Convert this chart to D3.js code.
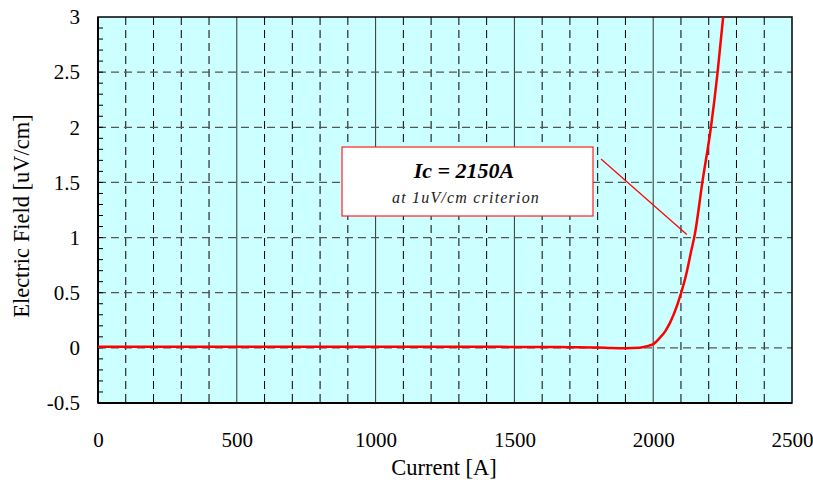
<!DOCTYPE html>
<html><head><meta charset="utf-8">
<script src="https://cdn.jsdelivr.net/npm/d3@7"></script>
<style>body{margin:0;background:#fff}svg{display:block}text{font-family:"Liberation Serif","Times New Roman",serif}</style>
</head><body>
<svg id="c" width="813" height="480"></svg>
<script>
const current = [0, 100, 200, 300, 400, 500, 600, 700, 800, 900, 1000, 1100, 1200, 1300, 1400, 1500, 1600, 1700, 1800, 1850, 1900, 1950, 1970, 1985, 2002, 2020, 2045, 2075, 2101, 2122, 2137, 2150, 2177, 2208, 2232, 2252];
const field   = [0.01, 0.01, 0.01, 0.01, 0.01, 0.01, 0.01, 0.01, 0.01, 0.01, 0.01, 0.01, 0.01, 0.01, 0.01, 0.008, 0.008, 0.006, 0.003, -0.002, -0.004, 0.0, 0.01, 0.02, 0.036, 0.08, 0.157, 0.31, 0.5, 0.70, 0.88, 1.03, 1.5, 2.0, 2.5, 3.0];
const xTicks = [0, 500, 1000, 1500, 2000, 2500];
const yTicks = [-0.5, 0, 0.5, 1, 1.5, 2, 2.5, 3];
const annotTitle = "Ic = 2150A";
const annotSub = "at 1uV/cm criterion";
const annotPoint = [2150, 1];

const svg = d3.select("#c");
const L = 98, R = 792, T = 17, B = 403;
const x = d3.scaleLinear().domain([0, 2500]).range([L, R]);
const y = d3.scaleLinear().domain([-0.5, 3]).range([B, T]);

svg.append("rect").attr("x", L).attr("y", T).attr("width", R - L).attr("height", B - T).attr("fill", "#ccffff");

// vertical grid
const minorX = d3.range(100, 2500, 100);
svg.append("g").selectAll("line").data(minorX).join("line")
  .attr("x1", d => x(d)).attr("x2", d => x(d)).attr("y1", T).attr("y2", B)
  .attr("stroke", d => d % 500 === 0 ? "#333" : "#000")
  .attr("stroke-width", 1)
  .attr("stroke-dasharray", d => d % 500 === 0 ? null : "8,5");
// horizontal grid
svg.append("g").selectAll("line").data(yTicks.filter(d => d > -0.5 && d < 3)).join("line")
  .attr("x1", L).attr("x2", R).attr("y1", d => y(d)).attr("y2", d => y(d))
  .attr("stroke", "#555").attr("stroke-width", 1.2).attr("stroke-dasharray", "8,5");

// minor y ticks
const minorY = d3.range(-0.4, 3, 0.1).map(v => Math.round(v * 10) / 10);
svg.append("g").selectAll("line").data(minorY).join("line")
  .attr("x1", L).attr("x2", L + 5).attr("y1", d => y(d)).attr("y2", d => y(d))
  .attr("stroke", "#000").attr("stroke-width", 1);

// frame
svg.append("rect").attr("x", L).attr("y", T).attr("width", R - L).attr("height", B - T)
  .attr("fill", "none").attr("stroke", "#000").attr("stroke-width", 1.5);
svg.append("line").attr("x1", L).attr("x2", R).attr("y1", B).attr("y2", B).attr("stroke", "#000").attr("stroke-width", 2);
svg.append("line").attr("x1", L).attr("x2", L).attr("y1", T).attr("y2", B).attr("stroke", "#000").attr("stroke-width", 2);

// axes labels via d3 axes
const xAxis = svg.append("g").attr("transform", `translate(0,${B})`)
  .call(d3.axisBottom(x).tickValues(xTicks).tickSize(0).tickPadding(29).tickFormat(d3.format("d")));
xAxis.select(".domain").remove();
xAxis.selectAll("text").attr("font-size", 21).attr("fill", "#000").attr("font-family", '"Liberation Serif",serif');
const yAxis = svg.append("g").attr("transform", `translate(${L},0)`)
  .call(d3.axisLeft(y).tickValues(yTicks).tickSize(0).tickPadding(18).tickFormat(d => String(d)));
yAxis.select(".domain").remove();
yAxis.selectAll("text").attr("font-size", 21).attr("fill", "#000").attr("font-family", '"Liberation Serif",serif');

// curve
const line = d3.line().curve(d3.curveMonotoneX).x((d, i) => x(current[i])).y(d => y(d));
svg.append("path").datum(field).attr("d", line).attr("fill", "none")
  .attr("stroke", "#ff0000").attr("stroke-width", 2.5).attr("stroke-linejoin", "round");

// annotation
svg.append("line").attr("x1", 601).attr("y1", 159).attr("x2", x(annotPoint[0]) - 8).attr("y2", y(annotPoint[1]) - 3)
  .attr("stroke", "#ff0000").attr("stroke-width", 1.2);
svg.append("rect").attr("x", 342).attr("y", 147).attr("width", 251).attr("height", 69)
  .attr("fill", "#fff").attr("stroke", "#ff2020").attr("stroke-width", 1.2);
svg.append("text").attr("x", 464).attr("y", 178).attr("text-anchor", "middle")
  .attr("font-size", 22).attr("font-weight", "bold").attr("font-style", "italic").text(annotTitle);
svg.append("text").attr("x", 466).attr("y", 203).attr("text-anchor", "middle")
  .attr("font-size", 16).attr("letter-spacing", 1.2).attr("font-style", "italic").attr("fill", "#222").text(annotSub);

// titles
svg.append("text").attr("x", 444).attr("y", 475).attr("text-anchor", "middle").attr("font-size", 22.5).text("Current [A]");
svg.append("text").attr("transform", "translate(29,216) rotate(-90)").attr("text-anchor", "middle").attr("font-size", 22.5).text("Electric Field [uV/cm]");
</script>
</body></html>
